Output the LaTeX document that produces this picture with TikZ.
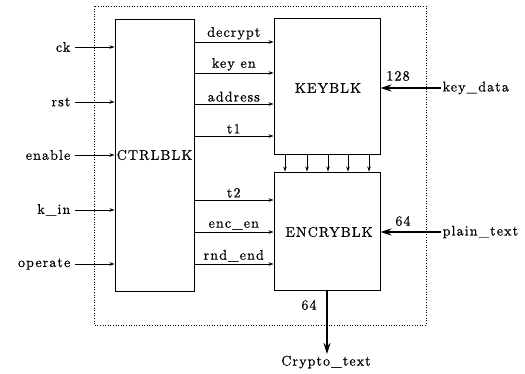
\documentclass[tikz,border=0pt]{standalone}
\usepackage{fontspec}
\newfontfamily\lblfont{lmroman10-regular.otf}[LetterSpace=8,FakeBold=0.6]
\usetikzlibrary{arrows.meta}
\tikzset{
  lbl/.style={font=\lblfont\fontsize{14}{16}\selectfont, inner sep=1.5pt},
  blk/.style={draw, line width=0.9pt, rectangle, inner sep=0pt},
  sig/.style={line width=0.8pt, -{Stealth[length=5pt,width=3.5pt]}},
  bus/.style={line width=1.8pt, -{Stealth[length=11pt,width=7pt]}},
  outline/.style={dotted, line width=0.6pt}
}
\begin{document}
\begin{tikzpicture}[x=1pt,y=-1pt]
\useasboundingbox (0,0) rectangle (525,374);
\draw[outline] (94,6) rectangle (426,325);
% blocks
\node[blk, minimum width=79, minimum height=272] (ctrl) at (154.5,155) {};
\node[lbl] (ctrlt) at (154.5,155) {CTRLBLK};
\node[blk, minimum width=106, minimum height=136] (key) at (327,86) {};
\node[lbl] (keyt) at (328,88) {KEYBLK};
\node[blk, minimum width=106, minimum height=118] (enc) at (327,231) {};
\node[lbl] (enct) at (329,232) {ENCRYBLK};
% inputs
\node[lbl, anchor=east] (ck) at (72,47) {ck};
\node[lbl, anchor=east] (rst) at (72,102) {rst};
\node[lbl, anchor=east] (en) at (72,155) {enable};
\node[lbl, anchor=east] (kin) at (72,210) {k\_in};
\node[lbl, anchor=east] (op) at (72,264) {operate};
\foreach \n in {ck,rst,en,kin,op}{
  \draw[sig] ([xshift=3pt]\n.east) -- (\n.east -| ctrl.west);
}
% control outputs
\foreach \y/\t/\nm in {42/decrypt/o1, 73/key en/o2, 104/address/o3, 136/t1/o4, 200/t2/o5, 232/enc\_en/o6, 264/rnd\_end/o7}{
  \coordinate (\nm) at (194,\y);
  \draw[sig] (\nm) -- (\nm -| key.west) node[lbl, midway, above=0.5pt] {\t};
}
% key to enc buses
\foreach \x in {285,307,328,348,369}{
  \coordinate (b\x) at (\x,154);
  \draw[sig] (b\x) -- (b\x |- enc.north);
}
% key_data
\node[lbl, anchor=west] (kd) at (441,88) {key\_data};
\draw[bus] (kd.west) -- (kd.west -| key.east);
\node[lbl] (n128) at (398,76) {128};
% plain_text
\node[lbl, anchor=west] (pt) at (441,232) {plain\_text};
\draw[bus] (pt.west) -- (pt.west -| key.east);
\node[lbl] (n64a) at (403,221) {64};
% crypto
\node[lbl, anchor=north] (ct) at (326,354) {Crypto\_text};
\coordinate (cs) at (327,290);
\draw[bus] (cs) -- (cs |- ct.north);
\node[lbl] (n64b) at (309,305) {64};
\end{tikzpicture}
\end{document}
